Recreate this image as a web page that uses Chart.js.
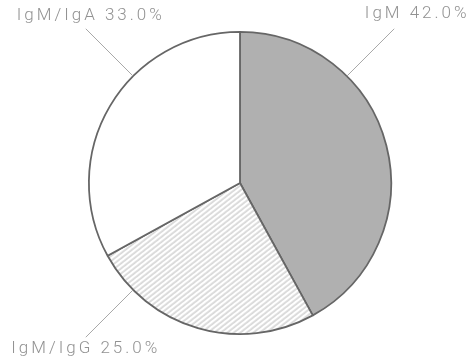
<!DOCTYPE html>
<html>
<head>
<meta charset="utf-8">
<script src="https://cdn.jsdelivr.net/npm/chart.js@4.4.1/dist/chart.umd.min.js"></script>
<style>
  html, body { margin: 0; padding: 0; background: #fff; }
  #wrap { width: 472px; height: 360px; }
</style>
</head>
<body>
<div id="wrap"><canvas id="c" width="472" height="360"></canvas></div>
<script>
// ---- data ----
const categories = ["IgM", "IgM/IgG", "IgM/IgA"];
const values = [42.0, 25.0, 33.0];
const labelTexts = ["IgM 42.0%", "IgM/IgG 25.0%", "IgM/IgA 33.0%"];

// ---- styles ----
function hatchPattern() {
  const s = 4;
  const c = document.createElement('canvas');
  c.width = s; c.height = s;
  const g = c.getContext('2d');
  g.fillStyle = '#ffffff';
  g.fillRect(0, 0, s, s);
  g.fillStyle = '#b2b2b2';
  g.fillRect(0, 1.6, s, 0.9);
  const p = document.getElementById('c').getContext('2d').createPattern(c, 'repeat');
  if (p.setTransform && window.DOMMatrix) {
    p.setTransform(new DOMMatrix().rotate(-38));
  }
  return p;
}

// leader-line anchor angles (degrees clockwise from top) and text offsets
const leaderAngles = [45, 225, 315];
const leaderLen = 67;
const textOffsets = [[23, -15], [0, 12], [5, -13]];

const labelPlugin = {
  id: 'leaderLabels',
  afterDatasetsDraw(chart) {
    const ctx = chart.ctx;
    const meta = chart.getDatasetMeta(0);
    ctx.save();
    meta.data.forEach((arc, i) => {
      const a = leaderAngles[i] * Math.PI / 180;
      const r = arc.outerRadius;
      const sx = arc.x + r * Math.sin(a);
      const sy = arc.y - r * Math.cos(a);
      const ex = sx + leaderLen * Math.sin(a);
      const ey = sy - leaderLen * Math.cos(a);
      ctx.strokeStyle = '#a8a8a8';
      ctx.lineWidth = 1;
      ctx.beginPath();
      ctx.moveTo(sx, sy);
      ctx.lineTo(ex, ey);
      ctx.stroke();
      ctx.fillStyle = '#929292';
      ctx.font = '300 17px Roboto, "DejaVu Sans", sans-serif';
      try { ctx.letterSpacing = '3px'; } catch (e) {}
      ctx.textAlign = 'center';
      ctx.textBaseline = 'middle';
      ctx.fillText(labelTexts[i], ex + textOffsets[i][0], ey + textOffsets[i][1]);
    });
    ctx.restore();
  }
};

new Chart(document.getElementById('c'), {
  type: 'pie',
  data: {
    labels: categories,
    datasets: [{
      data: values,
      backgroundColor: ['#b0b0b0', hatchPattern(), '#ffffff'],
      borderColor: '#666666',
      borderWidth: 1.8,
      borderAlign: 'center'
    }]
  },
  options: {
    responsive: false,
    animation: false,
    layout: { padding: { left: 88, right: 80, top: 31, bottom: 25 } },
    plugins: {
      legend: { display: false },
      tooltip: { enabled: false },
      title: { display: false }
    }
  },
  plugins: [labelPlugin]
});
</script>
</body>
</html>
